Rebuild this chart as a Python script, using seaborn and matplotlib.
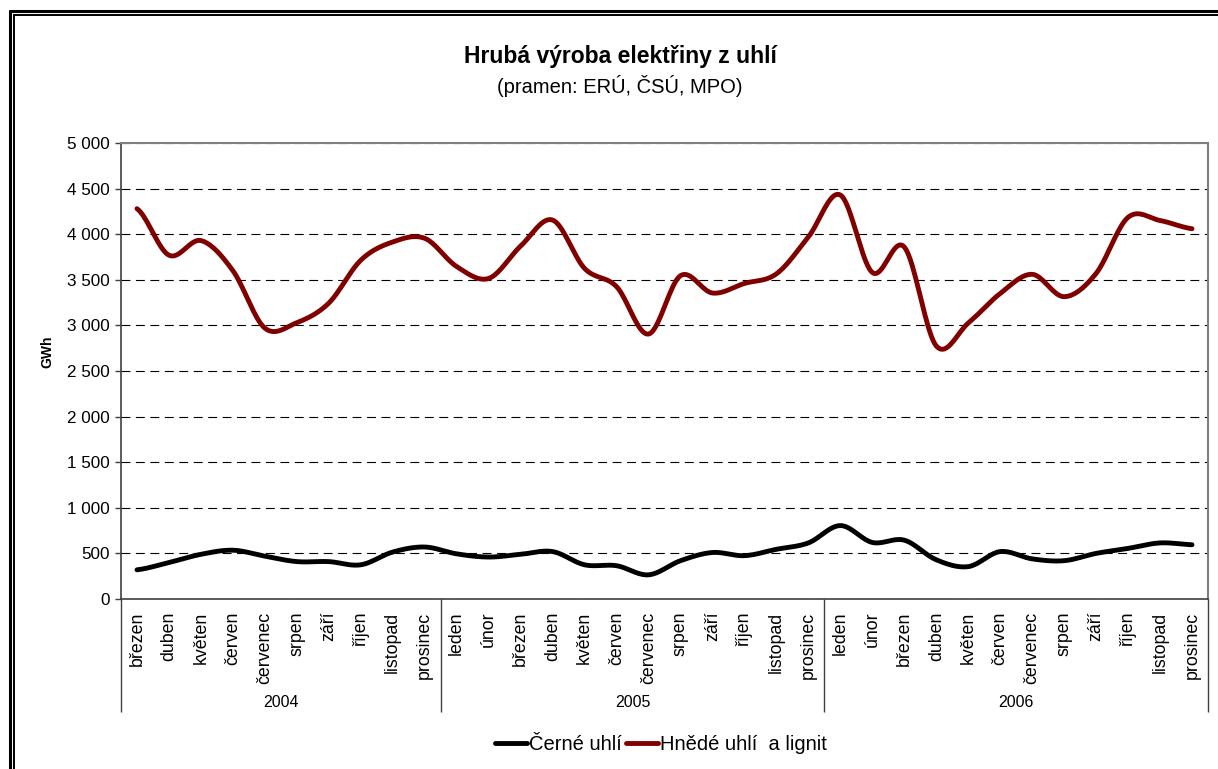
import numpy as np
import pandas as pd
import matplotlib
matplotlib.use('Agg')
import matplotlib.pyplot as plt
from matplotlib.lines import Line2D
from matplotlib.ticker import FuncFormatter, MultipleLocator
import seaborn as sns

months = ['březen', 'duben', 'květen', 'červen', 'červenec', 'srpen', 'září', 'říjen', 'listopad', 'prosinec',
          'leden', 'únor', 'březen', 'duben', 'květen', 'červen', 'červenec', 'srpen', 'září', 'říjen', 'listopad', 'prosinec',
          'leden', 'únor', 'březen', 'duben', 'květen', 'červen', 'červenec', 'srpen', 'září', 'říjen', 'listopad', 'prosinec']
years = ['2004', '2005', '2006']
year_counts = [10, 12, 12]

cerne = [320, 400, 490, 535, 470, 410, 410, 375, 515, 570, 495, 460,
         490, 520, 375, 365, 265, 420, 510, 475, 545, 615, 805, 620,
         645, 430, 355, 520, 440, 420, 500, 555, 615, 595]
hnede = [4280, 3770, 3930, 3600, 2970, 3030, 3245, 3715, 3915, 3955, 3645, 3515,
         3870, 4155, 3625, 3425, 2905, 3545, 3355, 3460, 3565, 3970, 4430, 3580,
         3860, 2775, 3025, 3350, 3560, 3315, 3570, 4185, 4150, 4060]


def smooth(vals, n=20):
    # Excel-like smoothed line (Catmull-Rom through the points)
    p = np.asarray(vals, dtype=float)
    ext = np.concatenate([[p[0]], p, [p[-1]]])
    xs, ys = [], []
    for i in range(len(p) - 1):
        p0, p1, p2, p3 = ext[i], ext[i + 1], ext[i + 2], ext[i + 3]
        t = np.linspace(0, 1, n, endpoint=False)
        y = 0.5 * ((2 * p1) + (-p0 + p2) * t + (2 * p0 - 5 * p1 + 4 * p2 - p3) * t ** 2
                   + (-p0 + 3 * p1 - 3 * p2 + p3) * t ** 3)
        xs.extend(i + t)
        ys.extend(y)
    xs.append(len(p) - 1)
    ys.append(p[-1])
    return np.array(xs), np.array(ys)


sns.set_style('white')
plt.rcParams['font.family'] = ['Liberation Sans', 'DejaVu Sans']
plt.rcParams['text.color'] = 'black'
plt.rcParams['xtick.color'] = 'black'
plt.rcParams['ytick.color'] = 'black'
plt.rcParams['axes.labelcolor'] = 'black'

fig = plt.figure(figsize=(12.18, 7.69), dpi=100)
ax = fig.add_axes([121 / 1218, 1 - 599 / 769, (1208 - 121) / 1218, (599 - 143) / 769])

x1, y1 = smooth(cerne)
x2, y2 = smooth(hnede)
sns.lineplot(x=x1, y=y1, ax=ax, color='black', lw=3.5, label='Černé uhlí', sort=False)
sns.lineplot(x=x2, y=y2, ax=ax, color='#800000', lw=3.5, label='Hnědé uhlí  a lignit', sort=False)

ax.set_xlim(-0.5, len(months) - 0.5)
ax.set_ylim(0, 5000)
ax.yaxis.set_major_locator(MultipleLocator(500))
ax.yaxis.set_major_formatter(FuncFormatter(lambda v, p: f'{int(v):,}'.replace(',', ' ')))
ax.grid(axis='y', color='black', lw=0.8, linestyle=(0, (8, 5)))
ax.grid(axis='x', visible=False)
ax.set_axisbelow(True)

for s in ['top', 'right']:
    ax.spines[s].set_color('#808080')
    ax.spines[s].set_linewidth(1.5)
for s in ['left', 'bottom']:
    ax.spines[s].set_color('#404040')
    ax.spines[s].set_linewidth(1.2)

ax.set_xticks(range(len(months)))
ax.set_xticklabels(months, rotation=90, fontsize=12.8, va='top')
ax.set_xticks(np.arange(-0.5, len(months)), minor=True)
ax.tick_params(axis='x', which='major', length=0, pad=9)
ax.tick_params(axis='x', which='minor', length=58, width=1, color='#404040', direction='out')
ax.tick_params(axis='y', which='major', length=4, width=1, color='#404040', direction='out', left=True,
               labelsize=12.3, pad=4)
ax.set_xlabel('')
ax.set_ylabel('')

# year separators and labels
bounds = np.concatenate([[0], np.cumsum(year_counts)]) - 0.5
ax.vlines(bounds, -0.248, 0, transform=ax.get_xaxis_transform(), colors='#404040', lw=1, clip_on=False)
for k, yr in enumerate(years):
    ax.text((bounds[k] + bounds[k + 1]) / 2, -0.226, yr, transform=ax.get_xaxis_transform(),
            ha='center', va='center', fontsize=11.5)

fig.text(47 / 1218, 1 - 352 / 769, 'GWh', rotation=90, ha='center', va='center', fontsize=10, fontweight='bold')
fig.text(620 / 1218, 1 - 57 / 769, 'Hrubá výroba elektřiny z uhlí', ha='center', va='center',
         fontsize=16.5, fontweight='bold')
fig.text(620 / 1218, 1 - 86 / 769, '(pramen: ERÚ, ČSÚ, MPO)', ha='center', va='center', fontsize=14.5)

ax.legend(loc='center', bbox_to_anchor=(661 / 1218, 1 - 745 / 769), bbox_transform=fig.transFigure,
          ncol=2, frameon=False, fontsize=14.5, handlelength=1.6, handletextpad=0.1, columnspacing=0.2,
          borderaxespad=0)

# double frame around the chart
W, H = 1218, 769
fig.add_artist(Line2D([8.5 / W, 1], [1 - 10.5 / H, 1 - 10.5 / H], transform=fig.transFigure, color='black',
                      lw=2.2, solid_capstyle='butt'))
fig.add_artist(Line2D([9.5 / W, 9.5 / W], [1 - 9.5 / H, 0], transform=fig.transFigure, color='black',
                      lw=2.2, solid_capstyle='butt'))
fig.add_artist(Line2D([13.5 / W, 1], [1 - 14.5 / H, 1 - 14.5 / H], transform=fig.transFigure, color='black',
                      lw=1.4, solid_capstyle='butt'))
fig.add_artist(Line2D([14 / W, 14 / W], [1 - 14 / H, 0], transform=fig.transFigure, color='black',
                      lw=1.4, solid_capstyle='butt'))

fig.savefig('out.png', dpi=100)
